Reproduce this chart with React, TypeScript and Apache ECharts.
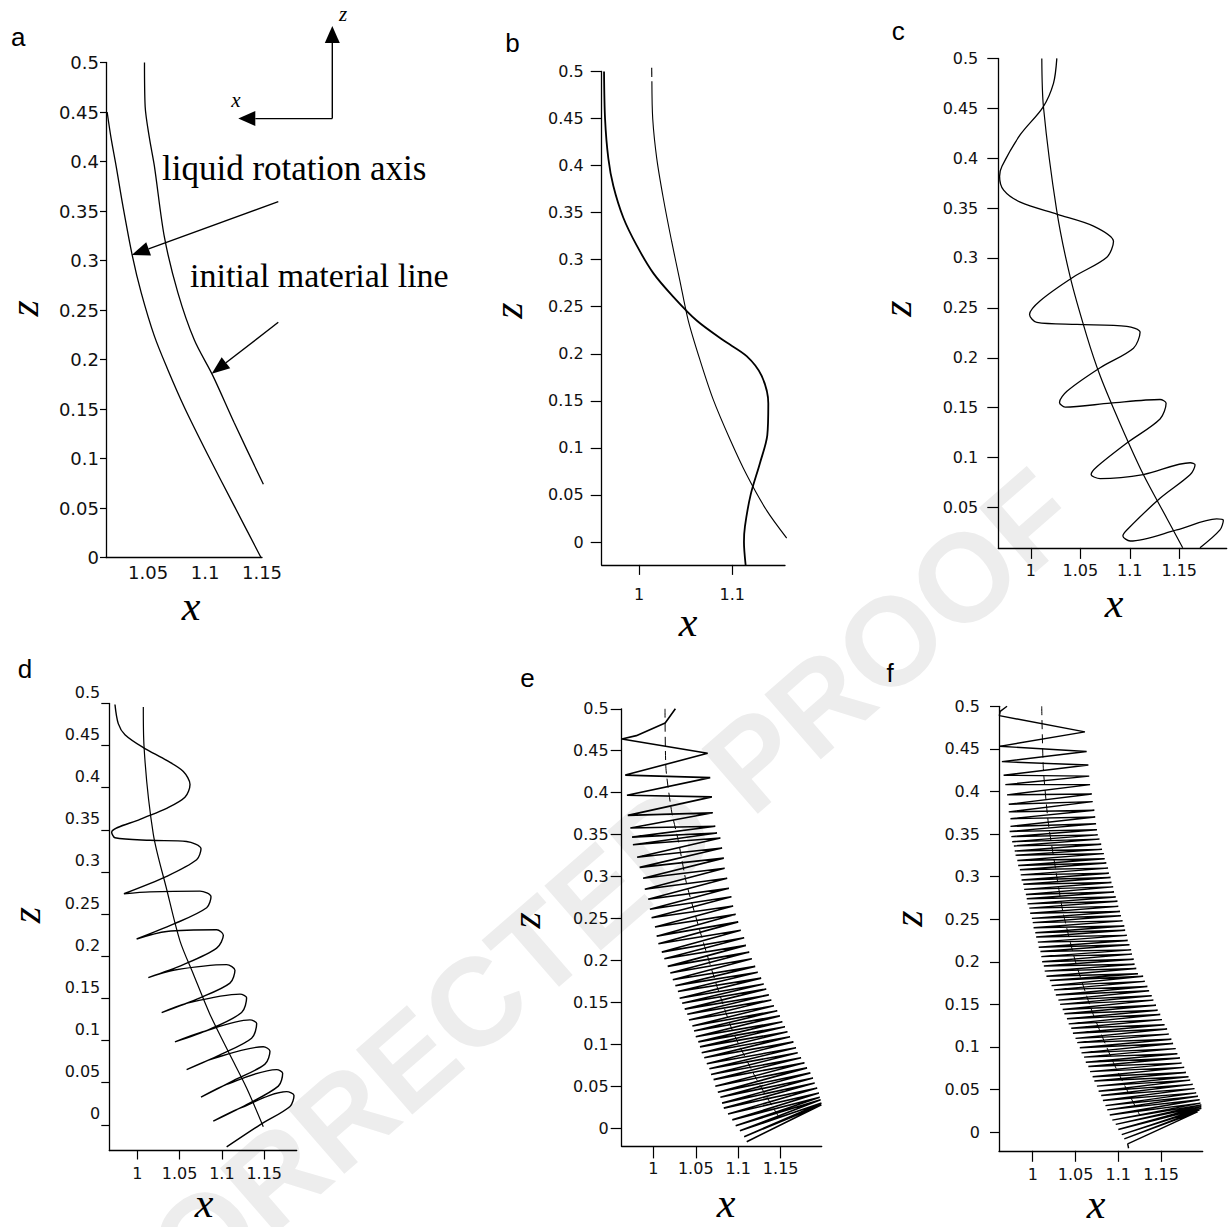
import React, { useEffect, useRef } from "react";
import * as echarts from "echarts";

// ---------- tick values ----------
const zTicks = [0, 0.05, 0.1, 0.15, 0.2, 0.25, 0.3, 0.35, 0.4, 0.45, 0.5];
const zTicksC = [0.05, 0.1, 0.15, 0.2, 0.25, 0.3, 0.35, 0.4, 0.45, 0.5];
const xTicksA = [1.05, 1.1, 1.15];
const xTicksB = [1, 1.1];
const xTicksCF = [1, 1.05, 1.1, 1.15];

// ---------- panel a ----------
const aAxisCurve = [[1.014,0.45],[1.0175,0.4233],[1.0219,0.3954],[1.0278,0.3554],[1.036,0.3055],[1.0439,0.2676],[1.0555,0.2236],[1.0673,0.1897],[1.0818,0.1518],[1.1024,0.1038],[1.1257,0.0519],[1.1491,0]];
const aMaterialLine = [[1.0468,0.5],[1.0474,0.4553],[1.0512,0.4233],[1.0555,0.3954],[1.0643,0.3235],[1.0761,0.2676],[1.0906,0.2196],[1.1068,0.1837],[1.1257,0.1358],[1.1512,0.0739]];

// ---------- panel b ----------
const bAxisTop = [[1.0136,0.504],[1.0137,0.494]];
const bAxisCurve = [[1.0138,0.4895],[1.0147,0.4496],[1.019,0.4076],[1.026,0.3655],[1.035,0.3193],[1.0439,0.2773],[1.0528,0.2353],[1.0654,0.1933],[1.0796,0.1513],[1.0975,0.1092],[1.1154,0.0714],[1.1368,0.0336],[1.1583,0.0042]];
const bMaterialLine = [[0.9625,0.5],[0.9636,0.4496],[0.9671,0.4076],[0.9725,0.3782],[0.9832,0.3445],[0.9975,0.3151],[1.0153,0.2857],[1.0368,0.2605],[1.0618,0.2353],[1.0904,0.2143],[1.1154,0.1975],[1.1315,0.1765],[1.1386,0.1471],[1.1375,0.1134],[1.1297,0.084],[1.1197,0.0504],[1.1136,0.0168],[1.1125,0],[1.1143,-0.0244]];

// ---------- panel c ----------
const cAxisCurve = [[1.011,0.5],[1.0127,0.451],[1.026,0.348],[1.0397,0.281],[1.0566,0.2215],[1.07,0.182],[1.0902,0.134],[1.1137,0.083],[1.1374,0.0393],[1.1535,0.0096]];
const cHelix = [[1.0262,0.5],[1.0228,0.475],[1.0121,0.451],[0.9892,0.4235],[0.9707,0.392],[0.9683,0.382],[0.9724,0.368],[0.9892,0.356],[1.0262,0.344],[1.0633,0.332],[1.0835,0.3166],[1.0768,0.3008],[1.043,0.281],[1.0094,0.2572],[0.9986,0.2434],[1.006,0.2354],[1.0465,0.2334],[1.097,0.2315],[1.1104,0.2255],[1.1037,0.2096],[1.07,0.19],[1.0364,0.1664],[1.0289,0.1553],[1.0346,0.1506],[1.0801,0.1545],[1.1306,0.1582],[1.1367,0.1545],[1.1306,0.1387],[1.097,0.1146],[1.0667,0.0908],[1.0609,0.083],[1.07,0.0789],[1.1137,0.083],[1.1612,0.0948],[1.166,0.0928],[1.1612,0.083],[1.1306,0.0592],[1.097,0.0275],[1.093,0.0215],[1.1004,0.0164],[1.1475,0.0275],[1.1879,0.0385],[1.1946,0.0373],[1.1912,0.0275],[1.171,0.0096]];

// ---------- panel d ----------
const dAxisCurve = [[1.0071,0.4956],[1.0079,0.4498],[1.0189,0.345],[1.0347,0.2795],[1.0504,0.2183],[1.0662,0.179],[1.0859,0.131],[1.1095,0.083],[1.1292,0.0437],[1.1489,-0.0022]];
const dHelix = [[0.9736,0.4987],[0.9775,0.476],[0.9854,0.4629],[1.0071,0.4476],[1.0347,0.4323],[1.0544,0.4192],[1.0623,0.4039],[1.0563,0.3886],[1.0347,0.3755],[1.0032,0.3624],[0.9697,0.3472],[0.9736,0.3406],[1.015,0.3376],[1.0583,0.3362],[1.0753,0.3275],[1.0701,0.3144],[1.0347,0.2948],[0.9842,0.2742],[1.015,0.2764],[1.0741,0.2773],[1.0871,0.2707],[1.082,0.2576],[1.0426,0.238],[0.9992,0.2205],[1.0347,0.2293],[1.0938,0.2314],[1.1017,0.2249],[1.0938,0.2096],[1.0544,0.19],[1.013,0.1747],[1.0426,0.1834],[1.1056,0.19],[1.1154,0.1834],[1.1095,0.1681],[1.0741,0.1507],[1.0288,0.1332],[1.0583,0.1441],[1.1214,0.155],[1.1292,0.1507],[1.1233,0.1332],[1.0859,0.1135],[1.0445,0.0983],[1.0741,0.1092],[1.1332,0.1245],[1.1411,0.1201],[1.1351,0.1026],[1.0977,0.083],[1.0583,0.0655],[1.0898,0.0786],[1.1489,0.0926],[1.1568,0.0873],[1.1509,0.072],[1.1135,0.0524],[1.0753,0.0328],[1.1056,0.048],[1.1647,0.0655],[1.1718,0.0611],[1.1667,0.0459],[1.1292,0.024],[1.0898,0.0044],[1.1214,0.0197],[1.1765,0.0393],[1.1852,0.0349],[1.1805,0.0218],[1.145,0],[1.1056,-0.0262]];

// ---------- panel e ----------
const eStart = [[1.026,0.5],[1.014,0.483],[0.98,0.468]];
const eLeftTips = [[0.963,0.464],[0.967,0.421],[0.969,0.397],[0.970,0.373],[0.973,0.358],[0.975,0.347],[0.976,0.338],[0.981,0.323],[0.984,0.311],[0.988,0.298],[0.990,0.285],[0.994,0.273],[0.996,0.261],[0.998,0.251],[1.002,0.240],[1.004,0.229],[1.006,0.220],[1.010,0.210],[1.013,0.202],[1.017,0.193],[1.020,0.185],[1.023,0.177],[1.026,0.170],[1.029,0.163],[1.031,0.155],[1.034,0.149],[1.037,0.142],[1.040,0.136],[1.042,0.129],[1.046,0.122],[1.048,0.116],[1.050,0.109],[1.053,0.103],[1.055,0.097],[1.057,0.090],[1.060,0.084],[1.063,0.077],[1.066,0.071],[1.068,0.064],[1.071,0.058],[1.073,0.050],[1.076,0.043],[1.079,0.037],[1.081,0.030],[1.083,0.024],[1.088,0.017],[1.093,0.010],[1.097,0.003],[1.102,-0.003],[1.107,-0.010],[1.110,-0.016]];
const eRightTips = [[1.064,0.447],[1.067,0.418],[1.069,0.395],[1.070,0.376],[1.073,0.360],[1.075,0.352],[1.079,0.346],[1.081,0.334],[1.083,0.322],[1.084,0.310],[1.087,0.298],[1.089,0.286],[1.092,0.276],[1.094,0.265],[1.097,0.255],[1.100,0.246],[1.103,0.236],[1.107,0.227],[1.109,0.218],[1.113,0.210],[1.116,0.202],[1.120,0.193],[1.123,0.186],[1.127,0.179],[1.130,0.172],[1.133,0.166],[1.136,0.159],[1.139,0.153],[1.142,0.146],[1.146,0.140],[1.149,0.134],[1.152,0.127],[1.155,0.121],[1.158,0.115],[1.161,0.109],[1.165,0.103],[1.168,0.096],[1.170,0.090],[1.174,0.084],[1.178,0.078],[1.181,0.072],[1.185,0.066],[1.188,0.060],[1.190,0.054],[1.193,0.048],[1.195,0.042],[1.196,0.037],[1.197,0.034],[1.198,0.030],[1.198,0.028]];
const eAxisCurve = [[1.0138,0.5],[1.0149,0.429],[1.0217,0.377],[1.0294,0.343],[1.0393,0.291],[1.055,0.235],[1.0747,0.17],[1.0942,0.114],[1.1218,0.058],[1.1492,0.011]];

// ---------- panel f ----------
const fStart = [[0.970,0.5],[0.962,0.494]];
const fLeftTips = [[0.961,0.489],[0.961,0.453],[0.964,0.435],[0.966,0.419],[0.968,0.408],[0.970,0.396],[0.972,0.385],[0.972,0.376],[0.974,0.368],[0.974,0.359],
[0.973,0.353],[0.975,0.347],[0.976,0.341],[0.978,0.336],[0.979,0.330],[0.980,0.325],[0.982,0.319],[0.983,0.313],[0.985,0.308],[0.986,0.302],[0.987,0.296],[0.989,0.291],[0.990,0.285],[0.992,0.279],[0.993,0.274],[0.994,0.268],[0.996,0.263],[0.997,0.257],[0.999,0.251],[1.000,0.246],[1.001,0.240],[1.003,0.234],[1.004,0.229],[1.006,0.223],[1.007,0.217],[1.009,0.212],[1.010,0.206],[1.011,0.200],[1.013,0.195],[1.014,0.189],[1.016,0.183],
[1.020,0.178],[1.022,0.172],[1.025,0.167],[1.027,0.161],[1.030,0.155],[1.032,0.150],[1.035,0.144],[1.037,0.139],[1.040,0.133],[1.042,0.127],[1.045,0.122],[1.047,0.116],[1.050,0.110],[1.052,0.105],[1.055,0.099],[1.057,0.093],[1.060,0.088],[1.062,0.082],[1.065,0.077],[1.067,0.071],[1.070,0.065],[1.072,0.060],[1.075,0.054],[1.077,0.048],[1.080,0.043],[1.082,0.037],[1.085,0.031],[1.087,0.026],[1.090,0.020],[1.093,0.014],[1.097,0.009],[1.100,0.003],[1.104,-0.003],[1.107,-0.008],[1.111,-0.014]];
const fRightTips = [[1.061,0.470],[1.063,0.447],[1.065,0.431],[1.066,0.418],[1.067,0.408],[1.069,0.397],[1.070,0.388],[1.072,0.378],[1.073,0.370],[1.074,0.362],
[1.075,0.355],[1.076,0.349],[1.078,0.344],[1.080,0.338],[1.081,0.332],[1.083,0.327],[1.084,0.321],[1.086,0.316],[1.088,0.310],[1.089,0.304],[1.091,0.299],[1.092,0.293],[1.094,0.288],[1.095,0.282],[1.097,0.276],[1.099,0.271],[1.100,0.265],[1.102,0.259],[1.103,0.254],[1.105,0.248],[1.107,0.242],[1.108,0.237],[1.110,0.231],[1.111,0.225],[1.113,0.220],[1.115,0.214],[1.116,0.209],[1.118,0.203],[1.119,0.197],[1.121,0.192],[1.123,0.186],
[1.129,0.183],[1.131,0.177],[1.134,0.171],[1.136,0.166],[1.139,0.160],[1.141,0.155],[1.144,0.149],[1.146,0.143],[1.149,0.138],[1.151,0.132],[1.154,0.126],[1.157,0.121],[1.159,0.115],[1.162,0.109],[1.164,0.104],[1.167,0.098],[1.169,0.092],[1.172,0.087],[1.174,0.081],[1.177,0.076],[1.179,0.070],[1.182,0.065],[1.184,0.061],[1.187,0.056],[1.189,0.051],[1.191,0.046],[1.193,0.042],[1.195,0.038],[1.196,0.034],[1.197,0.032],[1.197,0.030],[1.197,0.028],[1.195,0.026],[1.193,0.024]];
const fEnd = [[1.112,-0.019]];
const fAxisCurve = [[1.0105,0.5],[1.0124,0.427],[1.0182,0.363],[1.0241,0.325],[1.035,0.26],[1.05,0.2],[1.07,0.14],[1.095,0.08],[1.125,0.02]];

// ---------- helpers ----------
function zigzag(start: number[][], left: number[][], right: number[][], end: number[][]) {
  const out: number[][] = [...start];
  for (let i = 0; i < left.length; i++) {
    out.push(left[i]);
    if (i < right.length) out.push(right[i]);
  }
  return out.concat(end);
}
const fmt = (v: number) => String(Math.round(v * 100) / 100);

const panels = [
  { grid: { left: 106, top: 62.5, width: 156, height: 495 }, x: [1.013, 1.15], y: [0, 0.5], xTicks: xTicksA, yTicks: zTicks, fs: 18, xTickLen: 0, yTickLen: 6, xMargin: 6, yMargin: 7, lift: false },
  { grid: { left: 601.7, top: 71.4, width: 183.3, height: 493.5 }, x: [0.96, 1.1565], y: [-0.0243, 0.5], xTicks: xTicksB, yTicks: zTicks, fs: 16, xTickLen: 10, yTickLen: 11, xMargin: 22, yMargin: 18, lift: false },
  { grid: { left: 998.3, top: 58.4, width: 228.4, height: 489.5 }, x: [0.967, 1.198], y: [0.0095, 0.5], xTicks: xTicksCF, yTicks: zTicksC, fs: 16, xTickLen: 11, yTickLen: 11, xMargin: 15, yMargin: 20, lift: false },
  { grid: { left: 109.3, top: 703.4, width: 187.4, height: 447.1 }, x: [0.9669, 1.1884], y: [-0.0305, 0.5], xTicks: xTicksCF, yTicks: zTicks, fs: 16, xTickLen: 9, yTickLen: 8, xMargin: 15, yMargin: 9, lift: true },
  { grid: { left: 621.7, top: 708.8, width: 200, height: 437.6 }, x: [0.9628, 1.1983], y: [-0.0216, 0.5], xTicks: xTicksCF, yTicks: zTicks, fs: 16, xTickLen: 12, yTickLen: 11, xMargin: 14, yMargin: 13, lift: false },
  { grid: { left: 999, top: 706.3, width: 203.7, height: 444.5 }, x: [0.9606, 1.1986], y: [-0.022, 0.5], xTicks: xTicksCF, yTicks: zTicks, fs: 16, xTickLen: 11, yTickLen: 9, xMargin: 16, yMargin: 19, lift: false },
];

const seriesDefs = [
  { p: 0, data: aAxisCurve, w: 1.3, smooth: 0.3 },
  { p: 0, data: aMaterialLine, w: 1.3, smooth: 0.3 },
  { p: 1, data: bAxisTop, w: 1.1, smooth: 0 },
  { p: 1, data: bAxisCurve, w: 1.1, smooth: 0.3 },
  { p: 1, data: bMaterialLine, w: 1.8, smooth: 0.3 },
  { p: 2, data: cAxisCurve, w: 1.2, smooth: 0.3 },
  { p: 2, data: cHelix, w: 1.3, smooth: 0.3 },
  { p: 3, data: dAxisCurve, w: 1.2, smooth: 0.3 },
  { p: 3, data: dHelix, w: 1.4, smooth: 0.3 },
  { p: 4, data: eAxisCurve, w: 1, smooth: 0.2, dash: true },
  { p: 4, data: zigzag(eStart, eLeftTips, eRightTips, []), w: 1.6, smooth: 0 },
  { p: 5, data: fAxisCurve, w: 1, smooth: 0.2, dash: true },
  { p: 5, data: zigzag(fStart, fLeftTips, fRightTips, fEnd), w: 1.4, smooth: 0 },
];

function arrow(x1: number, y1: number, x2: number, y2: number, len = 18, half = 7) {
  const dx = x2 - x1, dy = y2 - y1, L = Math.hypot(dx, dy);
  const ux = dx / L, uy = dy / L;
  const bx = x2 - ux * len, by = y2 - uy * len;
  const px = -uy * half, py = ux * half;
  return [
    { type: "line", shape: { x1, y1, x2: bx, y2: by }, style: { stroke: "#000", lineWidth: 1.4 } },
    { type: "polygon", shape: { points: [[x2, y2], [bx + px, by + py], [bx - px, by - py]] }, style: { fill: "#000" } },
  ];
}

function txt(text: string, x: number, y: number, o: any = {}) {
  return {
    type: "text", x, y, rotation: o.rotation || 0, z: o.z ?? 10,
    style: {
      text, fill: o.fill || "#000", fontFamily: o.family || "Liberation Serif",
      fontSize: o.size || 42, fontStyle: o.italic ? "italic" : "normal", fontWeight: o.bold ? "bold" : "normal",
      align: o.align || "center", verticalAlign: "middle",
    },
  };
}

const letters = [["a", 18.3, 36.5], ["b", 512.5, 42.6], ["c", 898.3, 30.8], ["d", 25, 668.6], ["e", 527.5, 678], ["f", 890, 672.7]];
const xTitles = [[191, 606], [688, 622], [1114, 603], [204, 1203], [726, 1203], [1096, 1204]];
const zTitles = [[23.5, 308.4], [508.3, 310.6], [896.7, 308.7], [26, 915], [525.8, 920.3], [908.3, 918.5]];

export default function App() {
  const ref = useRef<HTMLDivElement>(null);
  useEffect(() => {
    const chart = echarts.init(ref.current!, null, { renderer: "svg" });
    const graphic: any[] = [];
    graphic.push(txt("UNCORRECTED PROOF", 511, 971, { family: "Liberation Sans", size: 125, bold: true, fill: "#ededed", rotation: 0.716, z: -10 }));
    letters.forEach(([t, x, y]) => graphic.push(txt(t as string, x as number, y as number, { family: "Liberation Sans", size: 26 })));
    xTitles.forEach(([x, y]) => graphic.push(txt("x", x, y, { italic: true, size: 42 })));
    zTitles.forEach(([x, y]) => graphic.push(txt("z", x, y, { italic: true, size: 42, rotation: Math.PI / 2 })));
    graphic.push(txt("liquid rotation axis", 162, 168.5, { size: 35, align: "left" }));
    graphic.push(txt("initial material line", 190, 275.2, { size: 34, align: "left" }));
    graphic.push(txt("z", 343, 14, { italic: true, size: 21 }));
    graphic.push(txt("x", 236, 100, { italic: true, size: 21 }));
    graphic.push(...arrow(278.3, 201.7, 131.7, 255));
    graphic.push(...arrow(278.3, 322.3, 211.7, 373.7));
    graphic.push(...arrow(332.3, 118.6, 332.3, 26, 17, 7.5));
    graphic.push(...arrow(332.3, 118.6, 238.3, 118.6, 17, 7.5));

    const option: any = {
      animation: false,
      backgroundColor: "#fff",
      textStyle: { fontFamily: "DejaVu Sans" },
      grid: panels.map((p) => ({ ...p.grid, containLabel: false, outerBoundsMode: "none", show: false })),
      xAxis: panels.map((p, i) => ({
        type: "value", gridIndex: i, min: p.x[0], max: p.x[1],
        axisLine: { show: true, onZero: false, lineStyle: { color: "#000", width: 1.3 } },
        splitLine: { show: false },
        axisTick: { show: p.xTickLen > 0, length: p.xTickLen, customValues: p.xTicks, lineStyle: { color: "#000", width: 1.2 } },
        axisLabel: { customValues: p.xTicks, margin: p.xMargin, fontSize: p.fs, color: "#111", fontFamily: "DejaVu Sans", formatter: fmt, showMinLabel: true, showMaxLabel: true },
      })),
      yAxis: panels.map((p, i) => ({
        type: "value", gridIndex: i, min: p.y[0], max: p.y[1],
        axisLine: { show: true, onZero: false, lineStyle: { color: "#000", width: 1.3 } },
        splitLine: { show: false },
        axisTick: { show: true, length: p.yTickLen, customValues: p.yTicks, lineStyle: { color: "#000", width: 1.2 } },
        axisLabel: {
          customValues: p.yTicks, margin: p.yMargin, fontSize: p.fs, color: "#111", fontFamily: "DejaVu Sans", formatter: fmt,
          showMinLabel: true, showMaxLabel: true,
          ...(p.lift ? { verticalAlign: "bottom", lineHeight: 22 } : {}),
        },
      })),
      series: seriesDefs.map((s) => ({
        type: "line", xAxisIndex: s.p, yAxisIndex: s.p, data: s.data,
        showSymbol: false, symbol: "none", smooth: s.smooth, clip: false, silent: true,
        lineStyle: { color: "#000", width: s.w, type: (s as any).dash ? [9, 5] : "solid" },
        z: 3,
      })),
      graphic: { elements: graphic },
    };
    chart.setOption(option);
    return () => chart.dispose();
  }, []);
  return <div ref={ref} style={{ position: "fixed", left: 0, top: 0, width: 1228, height: 1227, background: "#fff" }} />;
}
